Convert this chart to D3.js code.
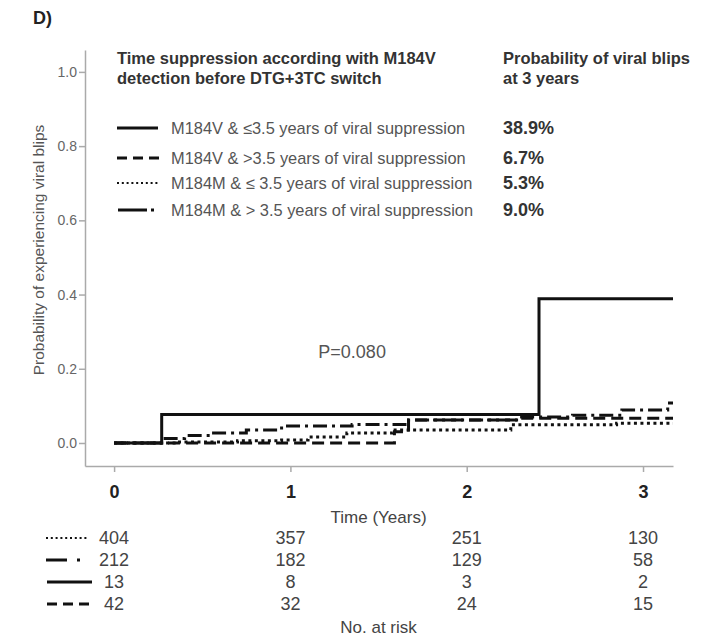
<!DOCTYPE html>
<html>
<head>
<meta charset="utf-8">
<script src="https://cdn.jsdelivr.net/npm/d3@7"></script>
<style>
  body { margin: 0; background: #fff; }
  svg { font-family: "Liberation Sans", Arial, sans-serif; }
</style>
</head>
<body>
<svg width="705" height="636"></svg>
<script>
// Groups (legend order) and probability at 3 years
const groups = [
  "M184V & \u22643.5 years of viral suppression",
  "M184V & >3.5 years of viral suppression",
  "M184M & \u2264 3.5 years of viral suppression",
  "M184M & > 3.5 years of viral suppression"
];
const prob3y = ["38.9%", "6.7%", "5.3%", "9.0%"];

// Kaplan-Meier steps (time in years, cumulative probability)
const solidT = [0, 0.27, 2.41, 3.17];
const solidP = [0, 0.077, 0.389, 0.389];
const dashedT = [0, 1.59, 1.67, 2.3, 3.17];
const dashedP = [0, 0.03, 0.062, 0.067, 0.067];
const dottedT = [0, 0.35, 0.7, 0.95, 1.1, 1.32, 1.58, 2.25, 2.85, 3.17];
const dottedP = [0, 0.003, 0.006, 0.008, 0.016, 0.027, 0.035, 0.049, 0.053, 0.053];
const dashDotT = [0, 0.27, 0.4, 0.55, 0.75, 0.95, 1.35, 1.65, 2.3, 2.6, 2.88, 3.14, 3.17];
const dashDotP = [0, 0.012, 0.02, 0.027, 0.035, 0.046, 0.05, 0.062, 0.07, 0.075, 0.089, 0.108, 0.108];

// Number at risk (rows in table order: dotted, dash-dot, solid, dashed)
const riskTimes = [0, 1, 2, 3];
const riskDotted = [404, 357, 251, 130];
const riskDashDot = [212, 182, 129, 58];
const riskSolid = [13, 8, 3, 2];
const riskDashed = [42, 32, 24, 15];

const xTicks = [0, 1, 2, 3];
const yTicks = [0, 0.2, 0.4, 0.6, 0.8, 1.0];

const svg = d3.select("svg");

// line styles
const styles = {
  solid:   { dash: null,        w: 3 },
  dashed:  { dash: "12,6",      w: 3 },
  dotted:  { dash: "3,3.5",     w: 3 },
  dashDot: { dash: "14,5,3,5",  w: 3 }
};

// Scales
const x = d3.scaleLinear().domain([-0.165, 3.17]).range([85, 673]);
const y = d3.scaleLinear().domain([-0.062, 1.059]).range([466, 50]);

// Panel label
svg.append("text")
  .attr("x", 33).attr("y", 24)
  .attr("font-size", 18).attr("font-weight", "bold").attr("fill", "#222")
  .text("D)");

// X axis
const xAxis = svg.append("g")
  .attr("transform", "translate(0,466)")
  .call(d3.axisBottom(x).tickValues(xTicks).tickSize(6).tickSizeOuter(0).tickPadding(13).tickFormat(d3.format("d")));
xAxis.selectAll("text").attr("font-size", 18).attr("font-weight", "bold").attr("fill", "#222");

// Y axis
const yAxis = svg.append("g")
  .attr("transform", "translate(85,0)")
  .call(d3.axisLeft(y).tickValues(yTicks).tickSize(6).tickSizeOuter(0).tickPadding(2).tickFormat(d3.format(".1f")));
yAxis.selectAll("text").attr("font-size", 14).attr("fill", "#666");

svg.selectAll(".domain, .tick line").attr("stroke", "#aaa").attr("stroke-width", 1.5);

// Y axis title
svg.append("text")
  .attr("transform", "translate(39,250) rotate(-90)")
  .attr("text-anchor", "middle").attr("dy", "0.35em")
  .attr("font-size", 15.5).attr("fill", "#555")
  .text("Probability of experiencing viral blips");

// Curves
const line = d3.line().x(d => x(d[0])).y(d => y(d[1])).curve(d3.curveStepAfter);
const curves = [
  { t: dottedT, p: dottedP, s: styles.dotted },
  { t: dashedT, p: dashedP, s: styles.dashed },
  { t: dashDotT, p: dashDotP, s: styles.dashDot },
  { t: solidT, p: solidP, s: styles.solid }
];
curves.forEach(c => {
  svg.append("path")
    .datum(c.t.map((t, i) => [t, c.p[i]]))
    .attr("d", line)
    .attr("fill", "none")
    .attr("stroke", "#111")
    .attr("stroke-width", c.s.w)
    .attr("stroke-dasharray", c.s.dash);
});

// P value
svg.append("text")
  .attr("x", x(1.35)).attr("y", y(0.245)).attr("dy", "0.35em")
  .attr("text-anchor", "middle")
  .attr("font-size", 18).attr("fill", "#555")
  .text("P=0.080");

// Legend headers
const hdr = svg.append("g").attr("font-size", 16.5).attr("font-weight", "bold").attr("fill", "#333");
hdr.append("text").attr("x", 117).attr("y", 58).attr("dy", "0.35em").text("Time suppression according with M184V");
hdr.append("text").attr("x", 117).attr("y", 78).attr("dy", "0.35em").text("detection before DTG+3TC switch");
hdr.append("text").attr("x", 503).attr("y", 58).attr("dy", "0.35em").text("Probability of viral blips");
hdr.append("text").attr("x", 503).attr("y", 78).attr("dy", "0.35em").text("at 3 years");

// Legend rows
const legendY = [128, 158, 183, 210];
const legendSamples = [
  [{ x1: 117, x2: 158, dash: null, w: 3 }],
  [{ x1: 117, x2: 162, dash: "10,6", w: 3 }],
  [{ x1: 117, x2: 160, dash: "2,2.8", w: 2 }],
  [{ x1: 118, x2: 147, dash: null, w: 3 }, { x1: 151, x2: 154, dash: null, w: 3 }]
];
groups.forEach((g, i) => {
  legendSamples[i].forEach(s => {
    svg.append("line")
      .attr("x1", s.x1).attr("x2", s.x2)
      .attr("y1", legendY[i]).attr("y2", legendY[i])
      .attr("stroke", "#111").attr("stroke-width", s.w)
      .attr("stroke-dasharray", s.dash);
  });
  svg.append("text")
    .attr("x", 171).attr("y", legendY[i]).attr("dy", "0.35em")
    .attr("font-size", 16.4).attr("fill", "#555")
    .text(g);
  svg.append("text")
    .attr("x", 503).attr("y", legendY[i]).attr("dy", "0.35em")
    .attr("font-size", 18).attr("font-weight", "bold").attr("fill", "#333")
    .text(prob3y[i]);
});

// X axis title
svg.append("text")
  .attr("x", x(1.5)).attr("y", 517).attr("dy", "0.35em")
  .attr("text-anchor", "middle").attr("font-size", 17).attr("fill", "#444")
  .text("Time (Years)");

// Number at risk table
const riskRows = [riskDotted, riskDashDot, riskSolid, riskDashed];
const riskY = [538, 560, 582, 604];
const riskSamples = [
  [{ x1: 46, x2: 88, dash: "2,2.8", w: 2 }],
  [{ x1: 46, x2: 67, dash: null, w: 3 }, { x1: 77, x2: 80, dash: null, w: 3 }],
  [{ x1: 47, x2: 92, dash: null, w: 3 }],
  [{ x1: 47, x2: 90, dash: "10,6", w: 3 }]
];
riskRows.forEach((row, i) => {
  riskSamples[i].forEach(s => {
    svg.append("line")
      .attr("x1", s.x1).attr("x2", s.x2)
      .attr("y1", riskY[i]).attr("y2", riskY[i])
      .attr("stroke", "#111").attr("stroke-width", s.w)
      .attr("stroke-dasharray", s.dash);
  });
  svg.selectAll(null)
    .data(row)
    .enter()
    .append("text")
    .attr("x", (d, j) => x(riskTimes[j]))
    .attr("y", riskY[i]).attr("dy", "0.35em")
    .attr("text-anchor", "middle")
    .attr("font-size", 18).attr("fill", "#444")
    .text(d => d);
});

svg.append("text")
  .attr("x", x(1.5)).attr("y", 627).attr("dy", "0.35em")
  .attr("text-anchor", "middle").attr("font-size", 17).attr("fill", "#444")
  .text("No. at risk");
</script>
</body>
</html>
